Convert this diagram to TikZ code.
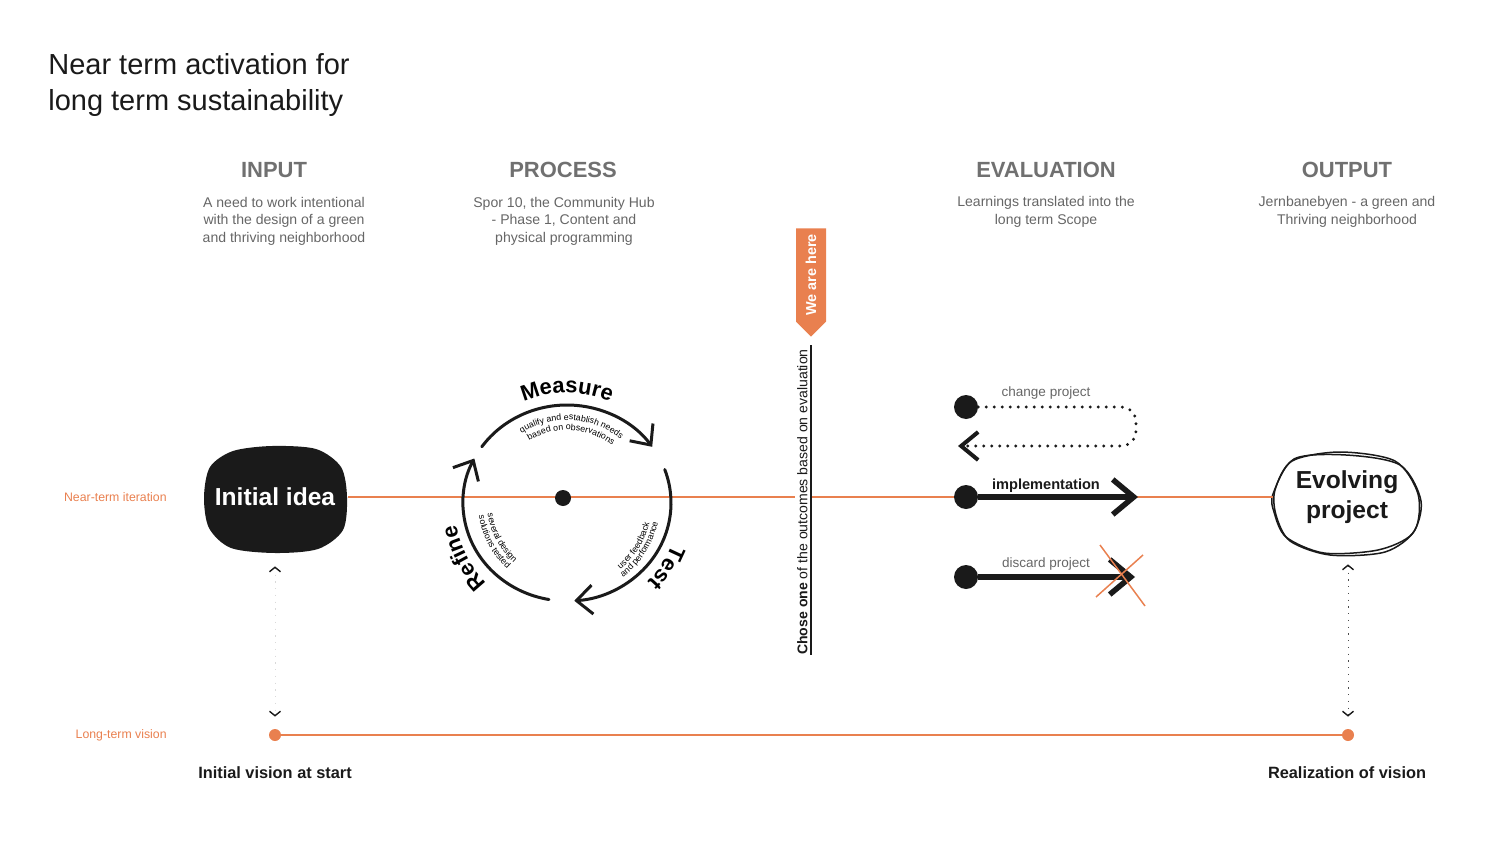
\documentclass[tikz,border=0pt]{standalone}
\usepackage{fontspec}
\setmainfont{Liberation Sans}
\usetikzlibrary{arrows.meta,positioning,calc,decorations.text,shapes.symbols}

\begin{document}
\begin{tikzpicture}[x=0.2mm,y=-0.2mm,
    orangeline/.style={draw=accent, line width=0.45mm},
    header/.style={text=headgray, font=\fontsize{12.5}{14}\selectfont\bfseries},
    subtext/.style={text=subgray, align=center, font=\fontsize{8}{10}\selectfont},
    sidelabel/.style={text=accent, anchor=east, inner sep=0pt, font=\fontsize{7}{8}\selectfont},
    bottomlabel/.style={text=inkblack, font=\fontsize{9.3}{11}\selectfont\bfseries},
    evlabel/.style={text=subgray, font=\fontsize{7.7}{9}\selectfont},
    evdot/.style={circle, fill=inkblack, minimum size=4.8mm, inner sep=0pt},
    vdot/.style={circle, fill=accent, minimum size=2.4mm, inner sep=0pt},
    brush/.style={draw=inkblack, line width=1.1mm, -{Straight Barb[length=4.2mm, width=7mm]}},
    dotline/.style={draw=inkblack, line width=0.65mm, line cap=round,
                    dash pattern=on 0pt off 1.6mm, rounded corners=3mm,
                    -{Straight Barb[length=3.4mm, width=5.6mm, line width=0.8mm]}},
    cyclearc/.style={draw=inkblack, line width=0.6mm, line cap=round,
                     -{Straight Barb[length=3.2mm, width=5.8mm]}},
    vlink/.style={line width=0.2mm, dash pattern=on 0.25mm off 1.1mm,
                  {Straight Barb[length=0.9mm, width=2.2mm, line width=0.28mm, color=inkblack]}-{Straight Barb[length=0.9mm, width=2.2mm, line width=0.28mm, color=inkblack]}},
    sketch/.style={draw=inkblack, line width=0.3mm},
  ]
    \definecolor{accent}{HTML}{E9804F}
    \definecolor{headgray}{HTML}{707070}
    \definecolor{subgray}{HTML}{666666}
    \definecolor{inkblack}{HTML}{1A1A1A}

    \useasboundingbox (0,0) rectangle (1500,844);

    % Title and column heads
    \node[anchor=west, align=left, inner sep=0pt, text=inkblack,
          font=\fontsize{16.5}{20}\selectfont] (title) at (48,85)
         {Near term activation for\\long term sustainability};

    \node[header] (input)   at (274,170)  {INPUT};
    \node[header] (process) at (563,170)  {PROCESS};
    \node[header] (evalu)   at (1046,170) {EVALUATION};
    \node[header] (output)  at (1347,170) {OUTPUT};

    \node[subtext] (input-txt)   at (284,221)
         {A need to work intentional\\with the design of a green\\and thriving neighborhood};
    \node[subtext] (process-txt) at (564,221)
         {Spor 10, the Community Hub\\- Phase 1, Content and\\physical programming};
    \node[subtext] (evalu-txt)   at (1046,212)
         {Learnings translated into the\\long term Scope};
    \node[subtext] (output-txt)  at (1347,212)
         {Jernbanebyen - a green and\\Thriving neighborhood};

    % Side labels
    \node[sidelabel] (near-lbl) at (167,497) {Near-term iteration};
    \node[sidelabel] (long-lbl) at (167,735) {Long-term vision};

    % Start and end of the iteration line
    \fill[inkblack] plot[smooth cycle] coordinates {(204,497) (210,467) (233,451)
          (272,446) (316,449) (341,467) (347,497) (343,530) (318,549) (275,553)
          (231,548) (209,528)};
    \node[text=white, minimum width=29mm, minimum height=21.6mm, inner sep=0pt,
          font=\fontsize{14}{16}\selectfont\bfseries] (idea) at (275,497) {Initial idea};
    \node[align=center, minimum width=29.4mm, minimum height=20mm, inner sep=0pt,
          text=inkblack, font=\fontsize{14}{17}\selectfont\bfseries] (evolve) at (1347,497)
         {Evolving\\project};

    % hand drawn outline (two passes)
    \draw[sketch] plot[smooth cycle] coordinates {(1275,490) (1292,461) (1340,452)
          (1395,461) (1418,494) (1415,530) (1385,552) (1330,555) (1290,541) (1276,515)};
    \draw[sketch] plot[smooth cycle] coordinates {(1273,494) (1294,459) (1346,455)
          (1400,465) (1421,501) (1412,534) (1378,550) (1324,553) (1286,537) (1274,512)};

    \draw[orangeline] (idea) -- (evolve);

    % Long term line
    \node[vdot] (vstart) at (275,735) {};
    \node[vdot] (vend)   at (1348,735) {};
    \draw[orangeline] (vstart) -- (vend);

    \draw[vlink, draw=black!15] ($(idea.south)+(0,15)$) -- ($(vstart.north)+(0,-12)$);
    \draw[vlink, draw=black!70] ($(evolve.south)+(1,17)$) -- ($(vend.north)+(0,-12)$);

    \node[bottomlabel] (start-lbl) at (275,773)  {Initial vision at start};
    \node[bottomlabel] (real-lbl)  at (1347,773) {Realization of vision};

    % The cycle
    \node[evdot, minimum size=3.2mm] (hub) at (563,498) {};
    \begin{scope}[shift={(567,503)}, x=0.2mm, y=0.2mm]
    \draw[cyclearc] (145:104 and 98) arc[start angle=145, end angle=35, x radius=104, y radius=98];
    \draw[cyclearc] (20:104 and 98)  arc[start angle=20, end angle=-86, x radius=104, y radius=98];
    \draw[cyclearc] (260:104 and 98) arc[start angle=260, end angle=153, x radius=104, y radius=98];

    \path[decorate, decoration={text along path, text align=center,
          text={|\fontsize{12.5}{14}\selectfont\bfseries|Measure}}]
         (150:110) arc[start angle=150, end angle=30, radius=110];
    \path[decorate, decoration={text along path, text align=center,
          text={|\fontsize{12.5}{14}\selectfont\bfseries|Refine}}]
         (250:113) arc[start angle=250, end angle=166, radius=113];
    \path[decorate, decoration={text along path, text align=center,
          text={|\fontsize{12.5}{14}\selectfont\bfseries|Test}}]
         (10:113) arc[start angle=10, end angle=-76, radius=113];

    \path[decorate, decoration={text along path, text align=center,
          text={|\fontsize{5}{6}\selectfont|qualify and establish needs}}]
         (150:83) arc[start angle=150, end angle=23, radius=83];
    \path[decorate, decoration={text along path, text align=center,
          text={|\fontsize{5}{6}\selectfont|based on observations}}]
         (150:73) arc[start angle=150, end angle=23, radius=73];
    \path[decorate, decoration={text along path, text align=center,
          text={|\fontsize{5}{6}\selectfont|several design}}]
         (160:80) arc[start angle=160, end angle=256, radius=80];
    \path[decorate, decoration={text along path, text align=center,
          text={|\fontsize{5}{6}\selectfont|solutions tested}}]
         (160:89) arc[start angle=160, end angle=256, radius=89];
    \path[decorate, decoration={text along path, text align=center,
          text={|\fontsize{5}{6}\selectfont|user feedback}}]
         (-80:85) arc[start angle=-80, end angle=15, radius=85];
    \path[decorate, decoration={text along path, text align=center,
          text={|\fontsize{5}{6}\selectfont|and performance}}]
         (-80:93) arc[start angle=-80, end angle=15, radius=93];
    \end{scope}

    % Decision bar
    \coordinate (bar-top) at (811,345);
    \coordinate (bar-bot) at (811,655);
    \node[rotate=90, anchor=south, inner sep=1.2pt, fill=white, text=inkblack,
          font=\fontsize{8}{9}\selectfont] (chose) at (810,502)
         {\textbf{Chose one} of the outcomes based on evaluation};
    \draw[draw=inkblack, line width=0.5mm] (bar-top) -- (bar-bot);
    \node[signal, signal to=west, signal pointer angle=90, rotate=90,
          fill=accent, text=white, minimum height=6mm, inner xsep=1.2mm,
          font=\fontsize{8.2}{9}\selectfont\bfseries] (here) at (811,275) {We are here};

    % Outcomes
    \node[evdot] (chg)  at (966,407) {};
    \node[evdot] (impl) at (966,497) {};
    \node[evdot] (disc) at (966,577) {};
    \coordinate (chg-end)  at (958,446);
    \coordinate (impl-end) at (1138,497);
    \coordinate (disc-end) at (1135,577);

    \draw[dotline] (chg) -- (1136,407) -- (1136,446) -- (chg-end);
    \draw[brush] (impl) -- (impl-end);
    \draw[brush] (disc) -- (disc-end);
    \draw[draw=accent, line width=0.3mm] (1100,545) -- (1145,606);
    \draw[draw=accent, line width=0.3mm] (1143,555) -- (1096,597);

    \node[evlabel] (chg-lbl)  at (1046,393) {change project};
    \node[evlabel, text=inkblack, font=\fontsize{8.3}{9}\selectfont\bfseries] (impl-lbl)
         at (1046,486) {implementation};
    \node[evlabel] (disc-lbl) at (1046,564) {discard project};
\end{tikzpicture}
\end{document}
